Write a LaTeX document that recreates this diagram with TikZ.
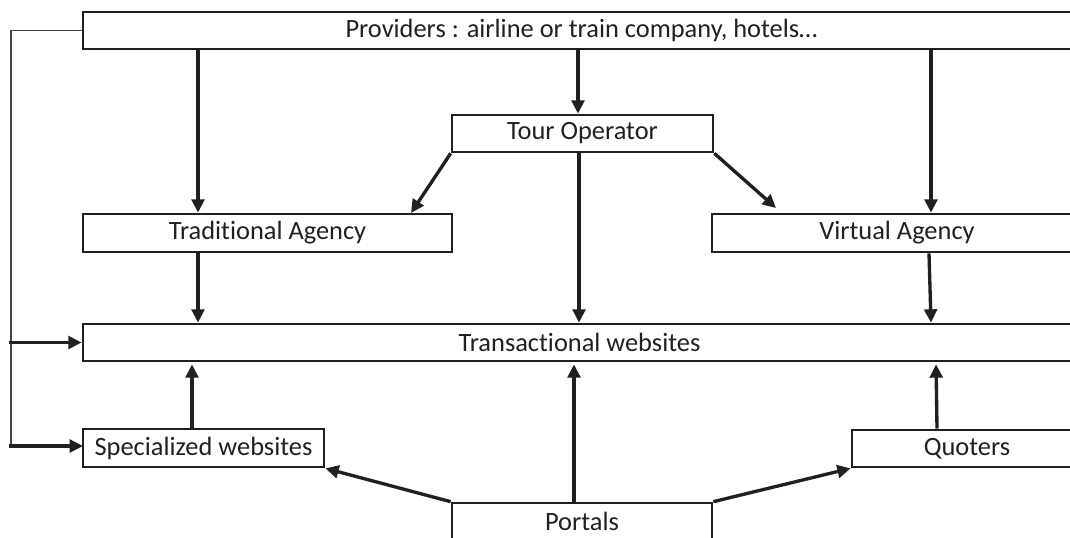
\documentclass[tikz,border=0pt]{standalone}
\usepackage{fontspec}
\setmainfont{Carlito}[Ligatures=NoCommon]
\usetikzlibrary{arrows.meta}
\definecolor{ink}{RGB}{35,31,32}
\newcommand\mybx[6]{\node[box, minimum width={(#4-#3)*0.75pt}, minimum height={(#6-#5)*0.75pt}] (#1) at ({(#3+#4)/2},{(#5+#6)/2}) {#2};}
\begin{document}
\begin{tikzpicture}[x=0.75pt,y=-0.75pt,
 box/.style={draw=ink, line width=2pt, inner sep=0pt, text=ink, font=\fontsize{19.8}{23}\selectfont},
 arr/.style={draw=ink, line width=2.5pt, -{Triangle[length=10pt,width=9.5pt]}},
 thinline/.style={draw=ink!85, line width=1.1pt}]
\useasboundingbox (0,0) rectangle (1070,537);
\clip (0,0) rectangle (1070,537);
\fill[white] (0,0) rectangle (1070,537);
\mybx{prov}{Providers : airline or train company, hotels…}{83}{1080}{12}{49}
\mybx{tour}{Tour Operator}{452}{713}{115}{152}
\mybx{trad}{Traditional Agency}{83}{452}{214}{252}
\mybx{virt}{Virtual Agency}{712}{1082}{214}{252}
\mybx{trans}{Transactional websites}{83}{1076}{324}{361}
\mybx{spec}{Specialized websites}{83}{324}{429}{467}
\mybx{quot}{Quoters}{852}{1082}{430}{467}
\mybx{port}{Portals}{452}{712}{503}{540}
\coordinate (ttip) at (411,213);
\coordinate (vtip) at (776,208);
\coordinate (lt) at (11,30.5);
\coordinate (lb) at (11,447);
\draw[arr] (198,0 |- prov.south) -- (198,0 |- trad.north);
\draw[arr] (578,0 |- prov.south) -- (578,0 |- tour.north);
\draw[arr] (931,0 |- prov.south) -- (931,0 |- virt.north);
\draw[arr] (tour.south west) -- (ttip);
\draw[arr] (tour.south east) -- (vtip);
\draw[arr] (579,0 |- tour.south) -- (579,0 |- trans.north);
\draw[arr] (198,0 |- trad.south) -- (198,0 |- trans.north);
\draw[arr] (929,0 |- virt.south) -- (931,0 |- trans.north);
\draw[arr, shorten >=1.5pt] (192,0 |- spec.north) -- (192,0 |- trans.south);
\draw[arr, shorten >=1.5pt] (574,0 |- port.north) -- (574,0 |- trans.south);
\draw[arr, shorten >=1.5pt] (937,0 |- quot.north) -- (936,0 |- trans.south);
\draw[arr] (port.north west) -- (spec.south east);
\draw[arr] (port.north east) -- (quot.south west);
\draw[thinline] (prov.west) -- (lt) -- (lb);
\draw[arr] (9,0 |- trans.west) -- (trans.west);
\draw[arr] (9,446) -- (83,446);
\end{tikzpicture}
\end{document}
